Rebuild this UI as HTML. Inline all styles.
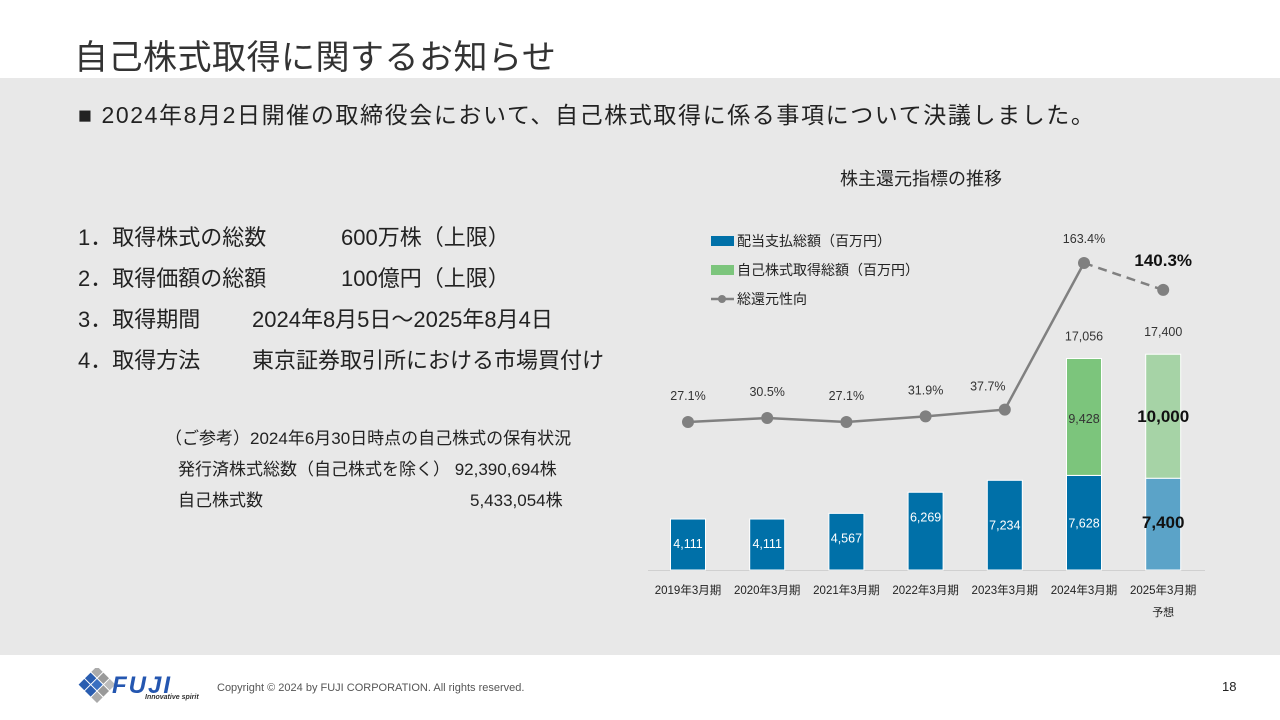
<!DOCTYPE html>
<html><head><meta charset="utf-8">
<style>
body{margin:0;width:1280px;height:720px;position:relative;background:#fff;font-family:"Liberation Sans","Noto Sans CJK JP",sans-serif;overflow:hidden;color:#222}
.abs{position:absolute;white-space:nowrap}
</style></head><body>
<div class="abs" style="left:74px;top:30px;font-size:34px;color:#333;letter-spacing:0.5px">自己株式取得に関するお知らせ</div>
<div class="abs" style="left:0;top:78px;width:1280px;height:577px;background:#e8e8e8"></div>
<div class="abs" style="left:78px;top:96px;font-size:23px;color:#222;letter-spacing:1.6px">■ 2024年8月2日開催の取締役会において、自己株式取得に係る事項について決議しました。</div>
<div class="abs" style="left:78px;top:220px;font-size:22px">1．取得株式の総数</div>
<div class="abs" style="left:341px;top:220px;font-size:22px">600万株（上限）</div>
<div class="abs" style="left:78px;top:261px;font-size:22px">2．取得価額の総額</div>
<div class="abs" style="left:341px;top:261px;font-size:22px">100億円（上限）</div>
<div class="abs" style="left:78px;top:302px;font-size:22px">3．取得期間</div>
<div class="abs" style="left:252px;top:302px;font-size:22px">2024年8月5日～2025年8月4日</div>
<div class="abs" style="left:78px;top:343px;font-size:22px">4．取得方法</div>
<div class="abs" style="left:252px;top:343px;font-size:22px">東京証券取引所における市場買付け</div>
<div class="abs" style="left:165px;top:424px;font-size:17px">（ご参考）2024年6月30日時点の自己株式の保有状況</div>
<div class="abs" style="left:178px;top:455px;font-size:17px">発行済株式総数（自己株式を除く） 92,390,694株</div>
<div class="abs" style="left:178px;top:486px;font-size:17px">自己株式数</div>
<div class="abs" style="left:470px;top:486px;font-size:17px">5,433,054株</div>
<div class="abs" style="left:840px;top:165px;font-size:18px">株主還元指標の推移</div>
<svg id="chart" class="abs" style="left:0;top:0" width="1280" height="720"></svg>
<svg class="abs" style="left:72px;top:668px" width="50" height="36">
<g transform="rotate(45 25 18)"><rect x="11" y="4" width="8" height="8" fill="#aaa"/><rect x="20" y="4" width="8" height="8" fill="#999"/><rect x="29" y="4" width="8" height="8" fill="#bbb"/><rect x="11" y="13" width="8" height="8" fill="#2a5db0"/><rect x="20" y="13" width="8" height="8" fill="#3a6fc0"/><rect x="29" y="13" width="8" height="8" fill="#999"/><rect x="11" y="22" width="8" height="8" fill="#2a5db0"/><rect x="20" y="22" width="8" height="8" fill="#2a5db0"/><rect x="29" y="22" width="8" height="8" fill="#aaa"/></g></svg>
<div class="abs" style="left:112px;top:672px;font-size:24px;font-weight:bold;font-style:italic;color:#2456b0;letter-spacing:2px">FUJI</div>
<div class="abs" style="left:145px;top:694px;font-size:7px;font-style:italic;font-weight:bold;color:#333">Innovative spirit</div>
<div class="abs" style="left:217px;top:682px;font-size:11px;color:#555">Copyright © 2024 by FUJI CORPORATION. All rights reserved.</div>
<div class="abs" style="left:1222px;top:679px;font-size:13px;color:#222">18</div>
<script>
const categories=["2019年3月期","2020年3月期","2021年3月期","2022年3月期","2023年3月期","2024年3月期","2025年3月期"];
const dividends=[4111,4111,4567,6269,7234,7628,7400];
const buybacks=[0,0,0,0,0,9428,10000];
const totals=[null,null,null,null,null,"17,056","17,400"];
const payoutRatio=[27.1,30.5,27.1,31.9,37.7,163.4,140.3];
const NS="http://www.w3.org/2000/svg";
const svg=document.getElementById('chart');
const x=i=>688+i*79.2;
const yBar=v=>570-v*0.0124;
const yLine=p=>453.6-p*1.1666;
function el(tag,a,parent){const e=document.createElementNS(NS,tag);for(const k in a)e.setAttribute(k,a[k]);(parent||svg).appendChild(e);return e;}
function txt(s,a){const t=el('text',Object.assign({'font-family':'"Liberation Sans","Noto Sans CJK JP",sans-serif','text-anchor':'middle'},a));t.textContent=s;return t;}
const ax=el('line',{x1:648,x2:1205,y1:570.5,y2:570.5,stroke:'#d0d0d0'});


const fc=i=>i===6;
categories.forEach((c,i)=>{
  const d=dividends[i],b=buybacks[i];
  const r=el('rect',{x:x(i)-17.5,y:yBar(d),width:35,height:570-yBar(d),fill:fc(i)?'#5ba3c8':'#0070a8',stroke:'#fff','stroke-width':1});
  
  
  let ly=yBar(d)+29;
  if(i===4)ly=yBar(d)+49;
  if(i===5)ly=yBar(d)+52;
  if(fc(i))ly=yBar(d)+50;
  const dl=txt(d.toLocaleString('en-US'),{x:x(i),y:ly,'font-size':fc(i)?17:12.5,fill:fc(i)?'#111':'#fff','font-weight':fc(i)?'bold':'normal'});
  
  
  if(b>0){
    const top=yBar(d+b);
    const r2=el('rect',{x:x(i)-17.5,y:top,width:35,height:yBar(d)-top,fill:fc(i)?'#a6d3a6':'#7cc57c',stroke:'#fff','stroke-width':1});
    
    
    const bl=txt(b.toLocaleString('en-US'),{x:x(i),y:(top+yBar(d))/2+6,'font-size':fc(i)?17:12.5,fill:fc(i)?'#111':'#333','font-weight':fc(i)?'bold':'normal'});
    
    
    const tl=txt(totals[i],{x:x(i),y:top-18,'font-size':12.5,fill:'#333'});
    
    
  }
  const cl=txt(c,{x:x(i),y:594,'font-size':11.5,fill:'#222'});
  
  
});
const fl=txt('予想',{x:x(6),y:616,'font-size':11,fill:'#222'});


let pts=payoutRatio.slice(0,6).map((p,i)=>x(i)+','+yLine(p)).join(' ');
const pl=el('polyline',{points:pts,fill:'none',stroke:'#808080','stroke-width':2.5});


const dash=el('line',{x1:x(5),y1:yLine(payoutRatio[5]),x2:x(6),y2:yLine(payoutRatio[6]),stroke:'#808080','stroke-width':2.5,'stroke-dasharray':'9 6'});


payoutRatio.forEach((p,i)=>{
  const c=el('circle',{cx:x(i),cy:yLine(p),r:6,fill:'#808080'});
  
  
  let ty=yLine(p)-22;
  if(i===4)ty=yLine(p)-19;
  if(i===5)ty=yLine(p)-20;
  if(i===6)ty=yLine(p)-24;
  const t=txt(p.toFixed(1)+'%',{x:x(i)-(i===4?17:0),y:ty,'font-size':i===6?17:12.5,fill:i===6?'#111':'#333','font-weight':i===6?'bold':'normal'});
  
  
});
const lg=[['#0070a8','配当支払総額（百万円）',241],['#7cc57c','自己株式取得総額（百万円）',270]];
lg.forEach((l,k)=>{
  const r=el('rect',{x:711,y:l[2]-5,width:23,height:10,fill:l[0]});
  
  
  const t=txt(l[1],{x:737,y:l[2]+5,'font-size':14,'text-anchor':'start',fill:'#222'});
  
  
});
const ll=el('line',{x1:711,x2:734,y1:299,y2:299,stroke:'#808080','stroke-width':2.5});


const lc=el('circle',{cx:722,cy:299,r:4,fill:'#808080'});


const lt=txt('総還元性向',{x:737,y:304,'font-size':14,'text-anchor':'start',fill:'#222'});


</script>
</body></html>
